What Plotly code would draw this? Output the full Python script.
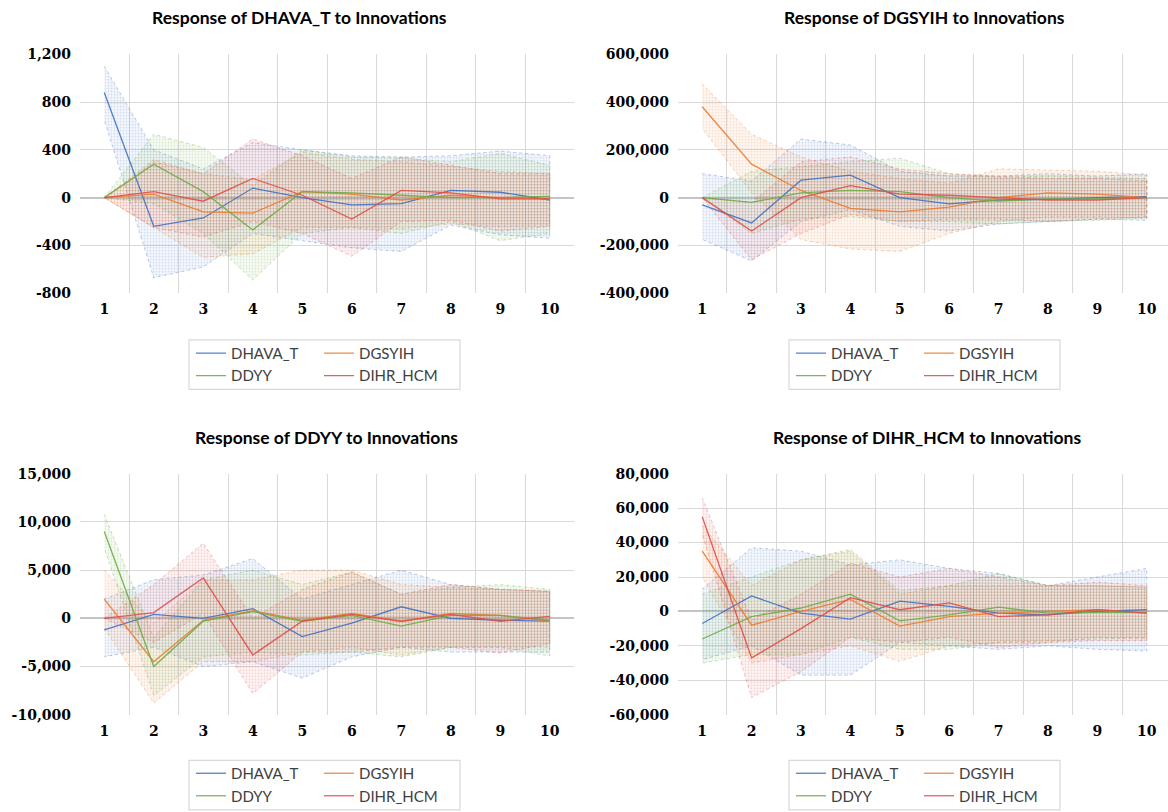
import plotly.graph_objects as go

W, H = 1168, 812
PERIODS = list(range(1, 11))
SHOCKS = ["DHAVA_T", "DGSYIH", "DDYY", "DIHR_HCM"]
COLORS = {"DHAVA_T": "#4472C4", "DGSYIH": "#ED7D31", "DDYY": "#70AD47", "DIHR_HCM": "#E0504A"}

# ---- Panel 1: Response of DHAVA_T ----
p1_dhava = [880, -240, -170, 80, 0, -60, -50, 60, 45, -20]
p1_dhava_hi = [1100, 400, 240, 460, 400, 350, 340, 350, 390, 350]
p1_dhava_lo = [650, -670, -580, -300, -360, -420, -450, -230, -310, -340]
p1_dgsyih = [0, 30, -120, -130, 50, 30, -20, 20, 0, -10]
p1_dgsyih_hi = [0, 320, 200, 150, 380, 320, 300, 260, 220, 200]
p1_dgsyih_lo = [0, -250, -500, -470, -250, -250, -260, -220, -240, -230]
p1_ddyy = [0, 280, 50, -270, 50, 40, 20, 0, 0, 10]
p1_ddyy_hi = [0, 530, 420, 100, 400, 340, 330, 300, 370, 270]
p1_ddyy_lo = [0, -50, -300, -690, -300, -250, -300, -200, -360, -300]
p1_dihr = [0, 50, -30, 160, 20, -180, 60, 40, -10, -10]
p1_dihr_hi = [0, 300, 200, 490, 350, 160, 340, 270, 200, 200]
p1_dihr_lo = [0, -250, -330, -200, -300, -490, -200, -190, -280, -240]

# ---- Panel 2: Response of DGSYIH ----
p2_dhava = [-30000, -106000, 73000, 94000, 0, -26000, -10000, -7000, 0, 4000]
p2_dhava_hi = [100000, 70000, 245000, 220000, 110000, 90000, 90000, 100000, 90000, 100000]
p2_dhava_lo = [-175000, -265000, -100000, -50000, -120000, -140000, -110000, -100000, -90000, -95000]
p2_dgsyih = [380000, 140000, 30000, -45000, -60000, -40000, 0, 20000, 15000, 0]
p2_dgsyih_hi = [475000, 265000, 170000, 110000, 80000, 60000, 120000, 115000, 110000, 95000]
p2_dgsyih_lo = [290000, 20000, -175000, -215000, -225000, -150000, -100000, -80000, -80000, -85000]
p2_ddyy = [0, -20000, 20000, 30000, 25000, 0, -15000, -5000, -5000, 0]
p2_ddyy_hi = [0, 110000, 130000, 150000, 165000, 100000, 85000, 90000, 85000, 80000]
p2_ddyy_lo = [0, -150000, -90000, -80000, -100000, -100000, -110000, -100000, -95000, -85000]
p2_dihr = [0, -140000, 0, 50000, 15000, 10000, 0, -10000, -10000, 0]
p2_dihr_hi = [0, -20000, 150000, 170000, 120000, 100000, 90000, 80000, 80000, 70000]
p2_dihr_lo = [0, -260000, -150000, -70000, -100000, -90000, -90000, -100000, -90000, -80000]

# ---- Panel 3: Response of DDYY ----
p3_dhava = [-1200, 400, 0, 1000, -1900, -500, 1200, 0, -200, -300]
p3_dhava_hi = [2000, 4000, 4500, 6200, 2000, 3500, 5000, 3500, 3000, 2800]
p3_dhava_lo = [-4000, -3000, -5000, -4500, -6200, -4000, -3000, -3500, -3500, -3500]
p3_dgsyih = [2000, -4500, -200, 800, -200, 500, -300, 500, 300, -300]
p3_dgsyih_hi = [5000, -500, 4000, 4000, 5000, 5000, 3500, 3200, 3000, 2800]
p3_dgsyih_lo = [-1000, -8800, -4500, -4500, -3500, -3000, -3800, -3000, -3000, -3000]
p3_ddyy = [9000, -5000, -300, 700, -300, 300, -800, 300, 300, -200]
p3_ddyy_hi = [10800, -2000, 4000, 5000, 3500, 4800, 2500, 3200, 3500, 3000]
p3_ddyy_lo = [7300, -8000, -4000, -3500, -3800, -3500, -4000, -3000, -3000, -3900]
p3_dihr = [0, 600, 4200, -3800, -300, 400, -300, 400, -300, 200]
p3_dihr_hi = [0, 3500, 7800, 0, 3000, 4800, 2500, 3500, 3000, 2800]
p3_dihr_lo = [0, -2500, 500, -7800, -3500, -3500, -3000, -3000, -3600, -2600]

# ---- Panel 4: Response of DIHR_HCM ----
p4_dhava = [-7000, 9000, -1000, -4500, 6000, 3000, -1000, -2000, 0, 1000]
p4_dhava_hi = [13000, 37000, 35000, 27000, 30000, 25000, 22000, 15000, 20000, 25000]
p4_dhava_lo = [-28000, -20000, -37000, -37000, -18000, -20000, -22000, -20000, -22000, -23000]
p4_dgsyih = [35000, -8000, 0, 7000, -8500, -3000, -1000, 0, 1000, -1000]
p4_dgsyih_hi = [50000, 15000, 30000, 35000, 10000, 15000, 15000, 15000, 15000, 14000]
p4_dgsyih_lo = [20000, -30000, -25000, -20000, -29000, -20000, -18000, -18000, -15000, -16000]
p4_ddyy = [-16000, -3000, 2000, 10000, -5500, -2000, 2500, -1000, -500, -500]
p4_ddyy_hi = [10000, 20000, 30000, 36000, 12000, 15000, 22000, 15000, 15000, 14000]
p4_ddyy_lo = [-30000, -25000, -25000, -15000, -22000, -22000, -18000, -17000, -16000, -15000]
p4_dihr = [55000, -27000, -10000, 8000, 1000, 5000, -3000, -2000, 1000, -1000]
p4_dihr_hi = [66000, -5000, 10000, 28000, 20000, 25000, 20000, 15000, 17000, 15000]
p4_dihr_lo = [45000, -50000, -35000, -15000, -18000, -15000, -21000, -18000, -17000, -17000]

TITLES = ["Response of DHAVA_T to Innovations", "Response of DGSYIH to Innovations",
          "Response of DDYY to Innovations", "Response of DIHR_HCM to Innovations"]
Y_RANGES = [(-800, 1200, 400), (-400000, 600000, 200000), (-10000, 15000, 5000), (-60000, 80000, 20000)]

PANELS = [
    {"DHAVA_T": (p1_dhava, p1_dhava_lo, p1_dhava_hi), "DGSYIH": (p1_dgsyih, p1_dgsyih_lo, p1_dgsyih_hi),
     "DDYY": (p1_ddyy, p1_ddyy_lo, p1_ddyy_hi), "DIHR_HCM": (p1_dihr, p1_dihr_lo, p1_dihr_hi)},
    {"DHAVA_T": (p2_dhava, p2_dhava_lo, p2_dhava_hi), "DGSYIH": (p2_dgsyih, p2_dgsyih_lo, p2_dgsyih_hi),
     "DDYY": (p2_ddyy, p2_ddyy_lo, p2_ddyy_hi), "DIHR_HCM": (p2_dihr, p2_dihr_lo, p2_dihr_hi)},
    {"DHAVA_T": (p3_dhava, p3_dhava_lo, p3_dhava_hi), "DGSYIH": (p3_dgsyih, p3_dgsyih_lo, p3_dgsyih_hi),
     "DDYY": (p3_ddyy, p3_ddyy_lo, p3_ddyy_hi), "DIHR_HCM": (p3_dihr, p3_dihr_lo, p3_dihr_hi)},
    {"DHAVA_T": (p4_dhava, p4_dhava_lo, p4_dhava_hi), "DGSYIH": (p4_dgsyih, p4_dgsyih_lo, p4_dgsyih_hi),
     "DDYY": (p4_ddyy, p4_ddyy_lo, p4_ddyy_hi), "DIHR_HCM": (p4_dihr, p4_dihr_lo, p4_dihr_hi)},
]


def py(t):
    # vertical pixel target -> layout pixel (compensates observed vertical scaling of the snapshot)
    return (t - 8.4) / 0.9785


# layout geometry in pixels
PLOT_X = [(80, 574), (678, 1168), (80, 574), (678, 1168)]
X_RANGES = [(0.51, 10.49), (0.51, 10.43), (0.51, 10.49), (0.51, 10.43)]
PLOT_Y = [(55, 296), (55, 296), (478, 721), (478, 721)]
TITLE_POS = [(299, 18), (924, 18), (326, 441), (927, 441)]
LEGEND_BOX = [(189, 343, 460, 393), (789, 343, 1060, 393), (189, 767, 460, 817), (789, 767, 1060, 817)]


def rgba(h, a):
    h = h.lstrip("#")
    return "rgba(%d,%d,%d,%.3f)" % (int(h[0:2], 16), int(h[2:4], 16), int(h[4:6], 16), a)


fig = go.Figure()
GRID = "#d9d9d9"
TICKFONT = dict(family="DejaVu Serif", size=14, color="#000000", weight="bold")

for i, panel in enumerate(PANELS):
    sfx = "" if i == 0 else str(i + 1)
    xa, ya = "x" + sfx, "y" + sfx
    # bands
    for s in SHOCKS:
        c = COLORS[s]
        mid, lo, hi = panel[s]
        fig.add_trace(go.Scatter(
            x=PERIODS + PERIODS[::-1], y=hi + lo[::-1], xaxis=xa, yaxis=ya,
            mode="lines", fill="toself", fillcolor=rgba(c, 0.05),
            fillpattern=dict(shape=".", fgcolor=rgba(c, 0.45), bgcolor=rgba(c, 0.04),
                             size=3, solidity=0.4),
            line=dict(color=rgba(c, 0.45), width=0.8, dash="dot"),
            hoverinfo="skip", showlegend=False))
    # lines
    for s in SHOCKS:
        c = COLORS[s]
        mid, lo, hi = panel[s]
        leg_idx = 2 * i + (1 if s in ("DHAVA_T", "DDYY") else 2)
        fig.add_trace(go.Scatter(
            x=PERIODS, y=mid, xaxis=xa, yaxis=ya, mode="lines", name=s,
            line=dict(color=c, width=1.3), opacity=0.9, showlegend=True,
            legend="legend" if leg_idx == 1 else "legend%d" % leg_idx))

    x0, x1 = PLOT_X[i]
    ytop, ybot = PLOT_Y[i]
    ymin, ymax, ystep = Y_RANGES[i]
    yvals = list(range(ymin, ymax + ystep, ystep))
    fig.layout["xaxis" + sfx] = dict(
        domain=[x0 / W, min(x1 / W, 1.0)], range=list(X_RANGES[i]), anchor=ya,
        tickmode="linear", tick0=1, dtick=1, showgrid=False, zeroline=False, showline=False,
        ticks="", tickfont=TICKFONT, ticklabelstandoff=6,
        minor=dict(tickmode="linear", tick0=0.5, dtick=1, showgrid=True, gridcolor=GRID, gridwidth=1.3, ticks=""),
        fixedrange=True)
    fig.layout["yaxis" + sfx] = dict(
        domain=[1 - py(ybot) / H, 1 - py(ytop) / H], range=[ymin, ymax], anchor=xa,
        tickmode="array", tickvals=yvals, ticktext=["{:,}".format(v) for v in yvals],
        showgrid=True, gridcolor=GRID,
        gridwidth=1.3, zeroline=True, zerolinecolor="#c4c4c4", zerolinewidth=1.8, showline=False,
        ticks="", tickfont=TICKFONT, ticklabelstandoff=8, fixedrange=True)

    tx, ty = TITLE_POS[i]
    fig.add_annotation(x=tx / W, y=1 - py(ty) / H, xref="paper", yref="paper", text="<b>%s</b>" % TITLES[i],
                       showarrow=False, xanchor="center", yanchor="middle",
                       font=dict(family="Lato", size=17.5, color="#000000"))

    bx0, by0, bx1, by1 = LEGEND_BOX[i]
    fig.add_shape(type="rect", xref="paper", yref="paper", x0=bx0 / W, x1=bx1 / W,
                  y0=1 - py(by1) / H, y1=1 - py(by0) / H, line=dict(color="#d9d9d9", width=1.2),
                  fillcolor="rgba(0,0,0,0)", layer="above")
    for col, lx in ((1, bx0 + 2), (2, bx0 + 130)):
        leg_idx = 2 * i + col
        key = "legend" if leg_idx == 1 else "legend%d" % leg_idx
        fig.layout[key] = dict(
            x=lx / W, y=1 - py(by0 - 3) / H, xanchor="left", yanchor="top", orientation="v",
            bgcolor="rgba(0,0,0,0)", borderwidth=0, tracegroupgap=0, itemwidth=30,
            font=dict(family="Lato", size=15, color="#404040"), itemclick=False, itemdoubleclick=False)

fig.update_layout(width=W, height=H, margin=dict(l=0, r=0, t=0, b=0),
                  paper_bgcolor="white", plot_bgcolor="white")

POST = ("document.documentElement.style.margin='0';document.documentElement.style.overflow='hidden';"
        "document.body.style.margin='0';document.body.style.overflow='hidden';"
        "var d=document.getElementById('{plot_id}');d.style.position='fixed';d.style.top='0px';d.style.left='0px';")
fig.write_html("out.html", config={"displayModeBar": False}, post_script=POST)
